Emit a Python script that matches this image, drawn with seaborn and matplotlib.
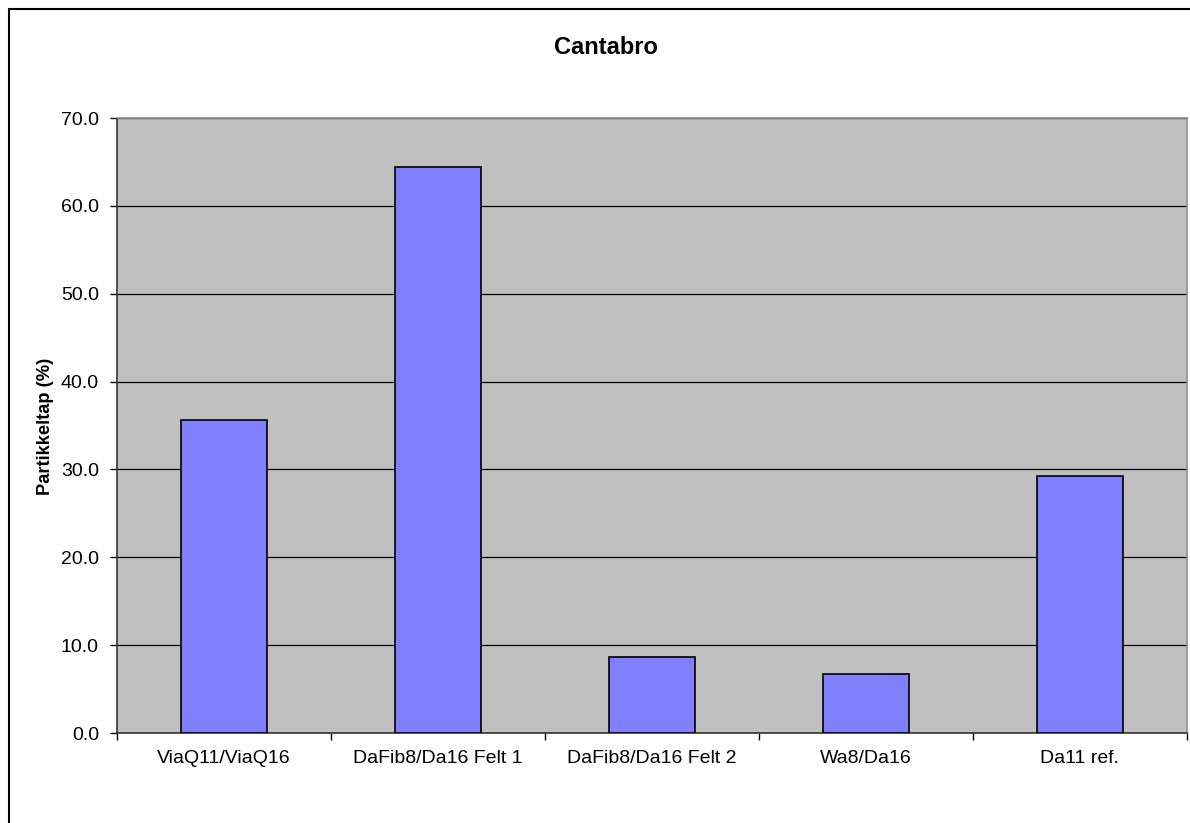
import matplotlib
matplotlib.use("Agg")
import matplotlib.pyplot as plt
import matplotlib.patches as mpatches
from matplotlib.ticker import FixedLocator, MultipleLocator, FormatStrFormatter
import seaborn as sns
import pandas as pd

categories = ["ViaQ11/ViaQ16", "DaFib8/Da16 Felt 1", "DaFib8/Da16 Felt 2", "Wa8/Da16", "Da11 ref."]
values = [35.6, 64.4, 8.7, 6.7, 29.3]
title = "Cantabro"
ylabel = "Partikkeltap (%)"

sns.set_theme(style="white")
plt.rcParams["font.family"] = ["Liberation Sans", "DejaVu Sans"]
plt.rcParams["text.color"] = "black"
plt.rcParams["axes.labelcolor"] = "black"
plt.rcParams["xtick.color"] = "black"
plt.rcParams["ytick.color"] = "black"

df = pd.DataFrame({"cat": categories, "val": values})

fig = plt.figure(figsize=(11.9, 8.23), dpi=100)
ax = fig.add_axes([117 / 1190, 1 - 733 / 823, (1187 - 117) / 1190, (733 - 118) / 823])
ax.set_facecolor("#C0C0C0")

sns.barplot(data=df, x="cat", y="val", color="#8080FF", edgecolor="black",
            linewidth=1.2, width=0.4, saturation=1, ax=ax, zorder=3)

ax.set_ylim(0, 70)
ax.set_xlim(-0.5, len(categories) - 0.5)
ax.yaxis.set_major_locator(MultipleLocator(10))
ax.yaxis.set_major_formatter(FormatStrFormatter("%.1f"))
ax.grid(axis="y", color="black", linewidth=0.9, zorder=1)
ax.set_axisbelow(True)

# category labels centred, tick marks on category boundaries
ax.set_xticks(range(len(categories)))
ax.set_xticklabels(categories, fontsize=14)
ax.tick_params(axis="x", which="major", length=0, pad=12)
ax.xaxis.set_minor_locator(FixedLocator([i - 0.5 for i in range(len(categories) + 1)]))
ax.tick_params(axis="x", which="minor", length=5, width=1, color="black", direction="out", bottom=True)
ax.tick_params(axis="y", length=5, width=1, color="black", direction="out", labelsize=14, pad=8, left=True)

ax.set_xlabel("")
ax.set_ylabel("")
fig.text(45 / 1190, 1 - 426 / 823, ylabel, rotation=90, ha="center", va="center",
         fontsize=13.2, fontweight="bold")

for side in ["left", "bottom"]:
    ax.spines[side].set_color("#333333")
    ax.spines[side].set_linewidth(1.2)
for side in ["top", "right"]:
    ax.spines[side].set_color("#909090")
    ax.spines[side].set_linewidth(1.2)

fig.text(606 / 1190, 1 - 47 / 823, title, ha="center", va="center",
         fontsize=17, fontweight="bold")

# chart-area frame
frame = mpatches.Rectangle((9 / 1190, -0.05), 1.2, 1 - 9 / 823 + 0.05,
                           transform=fig.transFigure, fill=False,
                           edgecolor="black", linewidth=1.5, clip_on=False)
fig.patches.append(frame)

fig.savefig("out.png", dpi=100, facecolor="white")
